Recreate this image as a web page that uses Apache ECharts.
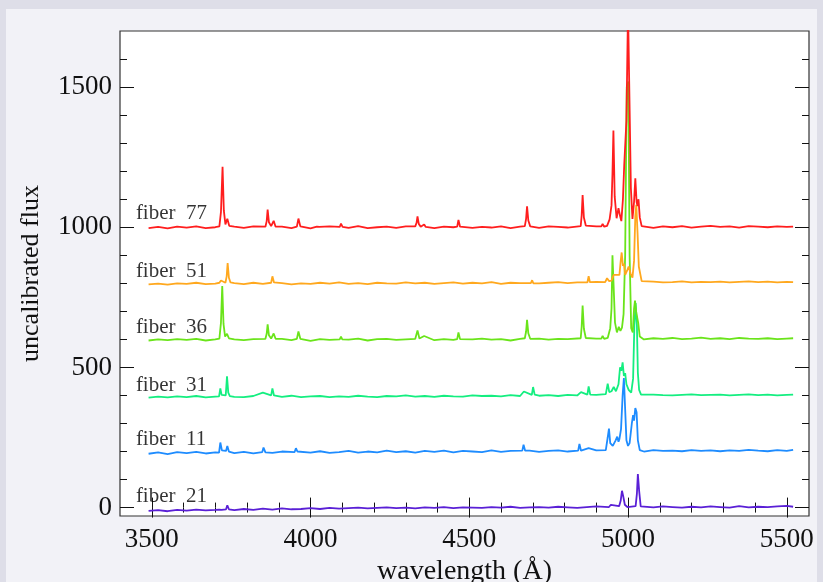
<!DOCTYPE html>
<html>
<head>
<meta charset="utf-8">
<script src="https://cdn.jsdelivr.net/npm/echarts@6/dist/echarts.min.js"></script>
<style>
  html, body { margin: 0; padding: 0; background: #dedee8; }
  #chart { width: 823px; height: 582px; }
</style>
</head>
<body>
<div id="chart"></div>
<script>
// Wavelength grid of the continuum samples (Å).
const wl = [3490, 3520, 3550, 3580, 3610, 3640, 3670, 3700, 3730, 3760,
    3790, 3820, 3850, 3880, 3910, 3940, 3970, 4000, 4030, 4060,
    4090, 4120, 4150, 4180, 4210, 4240, 4270, 4300, 4330, 4360,
    4390, 4420, 4450, 4480, 4510, 4540, 4570, 4600, 4630, 4660,
    4690, 4720, 4750, 4780, 4810, 4840, 4870, 4900, 4930, 4960,
    4990, 5020, 5050, 5080, 5110, 5140, 5170, 5200, 5230, 5260,
    5290, 5320, 5350, 5380, 5410, 5440, 5470, 5500, 5520];

const fibers = ['fiber  21', 'fiber  11', 'fiber  31', 'fiber  36', 'fiber  51', 'fiber  77'];
const offsets = [0, 200, 400, 600, 800, 1000];
const labelY = [39, 242, 437, 643, 842, 1050];
const colors = ['#5a20d6', '#1e8cff', '#14ee80', '#6ae41a', '#ffa81e', '#ff1e1e'];

// Continuum levels (raw flux, before the offset), one per wl sample.
const cont21 = [-12, -9, -13, -8, -11, -7, -10, -8, -6, -9,
    -5, -8, -4, -7, -3, -6, -5, -2, -5, -1,
    -4, -2, 0, -3, -1, 1, -2, 0, -3, 1,
    -1, 2, -2, 1, 0, -1, 2, 0, 3, -1,
    1, 2, 0, 3, 1, -1, 2, 4, 6, 8,
    5, 2, 3, 1, 4, 2, 0, 3, 1, 4,
    2, 0, 5, 1, 3, 2, 4, 6, 3];
const cont11 = [-8, -3, -9, -2, -6, -1, -7, -3, -2, -6,
    -1, -7, -3, -5, 0, -6, -2, -4, 1, -5,
    -2, 2, -4, 0, -3, 3, -2, 1, -4, 2,
    -1, 3, -3, 2, 0, -2, 4, -1, 2, 0,
    3, -1, 2, 4, 0, 3, 1, 4, 2, 5,
    2, 4, 0, 5, 2, 3, 1, 5, 2, 4,
    1, 4, 2, 6, 3, 1, 5, 2, 6];
const cont31 = [-8, -4, -7, -3, -6, -2, -7, -4, -3, -5,
    -6, -2, -7, -3, -5, -1, -6, -3, -2, -6,
    -3, -5, -1, -4, -6, -2, -3, 0, -4, -2,
    -5, -1, -3, -4, 0, -2, -1, -3, 1, -2,
    0, -1, 1, -2, 2, 0, -1, 2, 1, 3,
    0, 2, -1, 3, 1, 0, 2, 4, 1, 2,
    3, 0, 2, 4, 1, 3, 0, 2, 3];
const cont36 = [-4, 0, -3, 1, -2, 2, -4, 0, 1, 0,
    -3, 1, -2, 0, 2, -3, 0, -5, 1, -2,
    2, -1, 3, -4, 1, 2, -2, 0, -1, 3,
    -3, 1, -2, 2, 0, 3, -1, 1, -4, 2,
    0, 3, -1, 2, 1, 4, 0, 3, 2, 4,
    1, 3, 0, 4, 2, 5, 1, 3, 6, 2,
    4, 1, 5, 3, 2, 4, 1, 3, 4];
const cont51 = [-4, -1, -5, 0, -2, 2, -3, -1, 0, 1,
    -3, 2, -2, 0, 1, -4, 0, -2, 2, -1,
    3, -2, 1, -3, 2, 0, -1, 3, 0, 2,
    -2, 1, 3, -1, 2, 0, 4, -2, 2, 1,
    3, 0, 2, 4, 1, 3, 2, 5, 3, 4,
    3, 5, 2, 6, 3, 4, 7, 3, 5, 4,
    6, 3, 5, 7, 4, 6, 3, 5, 4];
const cont77 = [-3, 1, -4, 2, -1, 3, -3, 0, 0, 2,
    -2, 3, -1, 0, 2, -3, 1, -4, 0, 3,
    1, -2, 4, -3, 0, 2, -2, 3, -1, 1,
    -3, 2, 0, 4, -2, 1, -1, 3, -3, 2,
    0, -2, 3, 1, -1, 2, 0, 3, 2, 3,
    2, 3, 1, -2, 3, 0, 4, -1, 2, 5,
    1, 3, -1, 4, 2, 0, 3, 1, 2];

// Emission line profiles [wavelength, raw flux].
const lines21 = [[3712, -7], [3716, 0], [3720, -8], [3734, -6], [3738, 8], [3743, -6],
    [4940, 2], [4946, 10], [4952, 3],
    [4972, 5], [4977, 25], [4981, 60], [4985, 40], [4990, 10], [4998, 2],
    [5024, 5], [5028, 50], [5031, 120], [5035, 60], [5040, 4]];
const lines11 = [[3712, -4], [3716, 32], [3721, 4], [3727, 0], [3734, 2], [3738, 20], [3743, 0],
    [3848, -2], [3852, 14], [3858, -3], [3950, -2], [3954, 12], [3959, 0],
    [4667, 3], [4671, 24], [4676, 3],
    [4843, 3], [4847, 27], [4852, 3], [4876, 12],
    [4930, 5], [4936, 50], [4940, 82], [4944, 30], [4952, 20], [4961, 40], [4966, 53], [4970, 35],
    [4973, 45], [4978, 80], [4983, 200], [4987, 262], [4991, 150], [4995, 40], [5000, 20], [5005, 30],
    [5012, 100], [5016, 130], [5019, 110], [5023, 155], [5027, 140], [5031, 40], [5037, 5]];
const lines31 = [[3712, -3], [3716, 25], [3720, 2], [3733, 0], [3737, 68], [3741, 10], [3746, -2],
    [3850, 10], [3876, 0], [3880, 25], [3885, 0],
    [4672, 14], [4697, 2], [4701, 30], [4706, 3],
    [4852, 12], [4872, 3], [4876, 32], [4881, 3],
    [4930, 5], [4936, 42], [4941, 12], [4948, 15], [4955, 30], [4962, 15], [4970, 40], [4975, 100],
    [4979, 88], [4983, 118], [4987, 70], [4991, 80], [4995, 40], [5002, 20], [5010, 10], [5016, 60],
    [5020, 250], [5024, 330], [5028, 250], [5031, 80], [5035, 20], [5041, 3]];
const lines36 = [[3713, 3], [3718, 60], [3722, 190], [3726, 55], [3731, 10], [3737, 20], [3743, 4],
    [3858, 2], [3862, 20], [3865, 54], [3869, 15], [3876, 3], [3884, 21], [3890, 2],
    [3957, 2], [3962, 28], [3968, 2], [4092, 0], [4096, 10], [4100, 0],
    [4330, 2], [4337, 32], [4343, 3], [4358, 12], [4462, 1], [4466, 25], [4471, 1],
    [4675, 4], [4679, 28], [4682, 70], [4686, 22], [4692, 2],
    [4851, 4], [4854, 45], [4857, 121], [4861, 38], [4867, 5], [4916, 3], [4920, 12], [4925, 2],
    [4936, 5], [4944, 40], [4948, 110], [4951, 300], [4955, 300], [4959, 60], [4965, 25], [4971, 45],
    [4976, 30], [4981, 42], [4986, 90], [4991, 300], [4996, 900], [5001, 920], [5005, 300], [5010, 40],
    [5015, 25], [5019, 110], [5022, 138], [5026, 95], [5029, 92], [5032, 60], [5037, 10]];
const lines51 = [[3713, 2], [3718, 10], [3722, 3], [3732, 2], [3736, 25], [3739, 72], [3743, 20], [3748, 3],
    [3876, 2], [3880, 25], [3885, 3], [4694, 1], [4698, 11], [4702, 0],
    [4872, 3], [4876, 25], [4880, 4],
    [4928, 4], [4934, 18], [4940, 8], [4948, 10], [4955, 30], [4973, 30], [4977, 80], [4980, 110],
    [4984, 62], [4987, 70], [4991, 30], [4997, 45], [5002, 60], [5008, 35], [5014, 20], [5019, 80],
    [5023, 240], [5026, 280], [5030, 180], [5034, 60], [5038, 55], [5043, 8]];
const lines77 = [[3713, 3], [3718, 55], [3723, 216], [3727, 60], [3732, 10], [3738, 30], [3744, 5],
    [3858, 2], [3862, 22], [3865, 63], [3869, 18], [3876, 4], [3884, 23], [3890, 2],
    [3957, 2], [3962, 31], [3968, 3], [4020, 2], [4024, 9], [4028, 1], [4092, 1], [4096, 13], [4101, 1],
    [4330, 3], [4334, 16], [4337, 39], [4341, 12], [4347, 2], [4358, 10], [4363, 1],
    [4462, 2], [4466, 26], [4471, 2],
    [4675, 4], [4679, 30], [4682, 75], [4686, 24], [4692, 3],
    [4851, 4], [4854, 42], [4857, 115], [4861, 35], [4867, 6], [4916, 3], [4920, 12], [4925, 2],
    [4934, 5], [4942, 28], [4948, 78], [4951, 190], [4954, 345], [4958, 110], [4964, 32], [4970, 68],
    [4975, 40], [4979, 22], [4984, 100], [4988, 220], [4995, 380], [5000, 780], [5005, 780], [5009, 140],
    [5014, 30], [5019, 90], [5023, 175], [5027, 90], [5030, 76], [5033, 100], [5037, 35], [5043, 4]];

const xMajor = [3500, 4000, 4500, 5000, 5500];
const xMinor = [3500, 3600, 3700, 3800, 3900, 4000, 4100, 4200, 4300, 4400, 4500,
    4600, 4700, 4800, 4900, 5000, 5100, 5200, 5300, 5400, 5500];
const yMajor = [0, 500, 1000, 1500];
const yMinor = [0, 100, 200, 300, 400, 500, 600, 700, 800, 900, 1000,
    1100, 1200, 1300, 1400, 1500, 1600];

const continua = [cont21, cont11, cont31, cont36, cont51, cont77];
const lineSets = [lines21, lines11, lines31, lines36, lines51, lines77];

// Merge continuum samples with line profiles (drop continuum samples under a line).
const buildSpectrum = (cont, lines, offset) => wl
    .map((w, i) => [w, cont[i]])
    .filter(([w]) => !lines.some(([lw]) => Math.abs(lw - w) < 12))
    .concat(lines)
    .sort((a, b) => a[0] - b[0])
    .map(([w, v]) => [w, v + offset]);

const FONT = 'Liberation Serif';
const INK = '#111111';

const makeAxis = (dim, position, values, length, withLabel) => ({
    type: 'value',
    position: position,
    min: dim === 'x' ? 3400 : -30,
    max: dim === 'x' ? 5570 : 1700,
    axisLine: {show: false},
    splitLine: {show: false},
    axisTick: {show: true, inside: true, length: length, customValues: values, lineStyle: {color: INK, width: 1}},
    axisLabel: {
        show: withLabel,
        customValues: values,
        formatter: (v) => String(v),
        fontFamily: FONT,
        fontSize: 27,
        color: INK,
        margin: dim === 'x' ? 10 : 8
    }
});

const xAxes = [
    Object.assign(makeAxis('x', 'bottom', xMajor, 10, true), {
        name: 'wavelength (Å)',
        nameLocation: 'middle',
        nameGap: 37,
        nameTextStyle: {fontFamily: FONT, fontSize: 28, color: INK}
    }),
    makeAxis('x', 'bottom', xMinor, 5, false),
    makeAxis('x', 'top', xMajor, 10, false),
    makeAxis('x', 'top', xMinor, 5, false)
];
const yAxes = [
    Object.assign(makeAxis('y', 'left', yMajor, 14, true), {
        name: 'uncalibrated flux',
        nameLocation: 'middle',
        nameGap: 76,
        nameRotate: 90,
        nameTextStyle: {fontFamily: FONT, fontSize: 26, color: INK}
    }),
    makeAxis('y', 'left', yMinor, 7, false),
    makeAxis('y', 'right', yMajor, 14, false),
    makeAxis('y', 'right', yMinor, 7, false)
];

const series = fibers.map((name, i) => ({
    name: name,
    type: 'line',
    data: buildSpectrum(continua[i], lineSets[i], offsets[i]),
    showSymbol: false,
    symbol: 'none',
    clip: true,
    lineStyle: {color: colors[i], width: 1.8},
    z: 2 + i
}));

// Fiber name labels at the left of each spectrum.
series.push({
    type: 'scatter',
    symbolSize: 0,
    data: fibers.map((name, i) => ({value: [3450, labelY[i]], name: name})),
    label: {
        show: true,
        position: 'right',
        distance: 0,
        formatter: (p) => p.name,
        fontFamily: FONT,
        fontSize: 21,
        color: '#000000'
    },
    z: 10
});

const chart = echarts.init(document.getElementById('chart'));
chart.setOption({
    animation: false,
    graphic: [{
        type: 'rect',
        z: -100,
        silent: true,
        shape: {x: 6, y: 9, width: 811, height: 573},
        style: {fill: '#f2f2f7'}
    }],
    grid: {
        left: 120, right: 14, top: 31, bottom: 66,
        show: true,
        backgroundColor: '#ffffff',
        borderColor: '#333333',
        borderWidth: 1.2,
        outerBoundsMode: 'none'
    },
    xAxis: xAxes,
    yAxis: yAxes,
    series: series
});
</script>
</body>
</html>
